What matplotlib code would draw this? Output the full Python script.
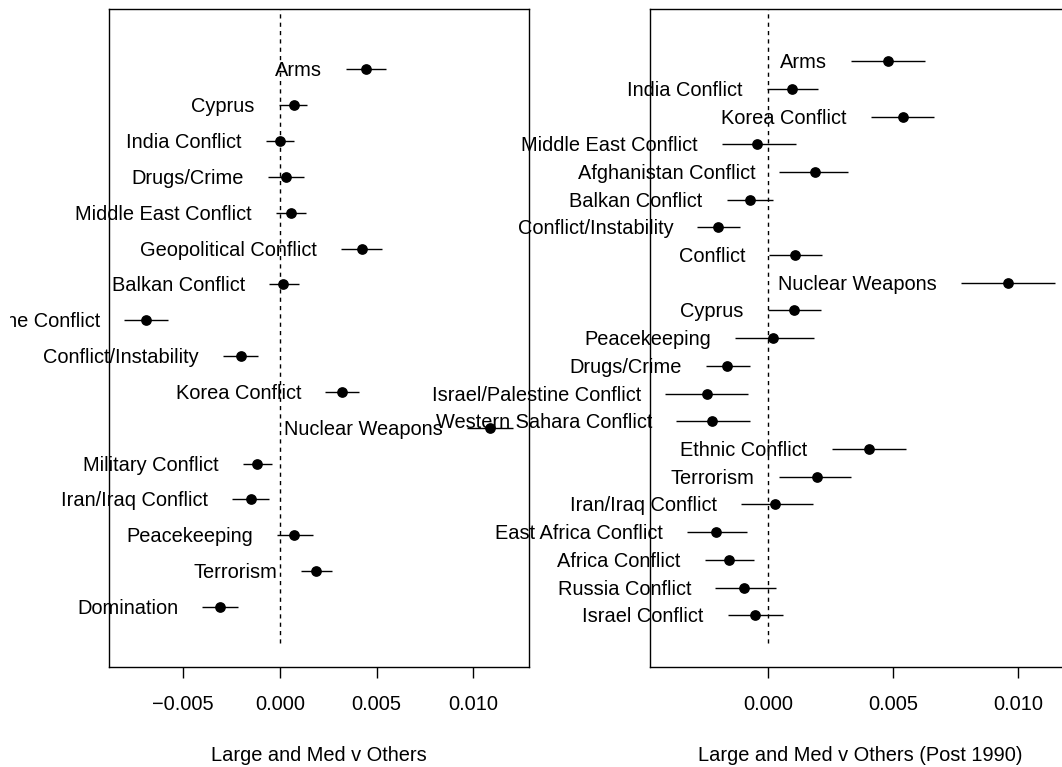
import matplotlib
matplotlib.use("Agg")
import matplotlib.pyplot as plt
from matplotlib.transforms import Bbox

plt.rcParams['font.family'] = ['Liberation Sans', 'DejaVu Sans']

# left panel: all years
left_labels = ["Arms", "Cyprus", "India Conflict", "Drugs/Crime", "Middle East Conflict",
               "Geopolitical Conflict", "Balkan Conflict", "Israel/Palestine Conflict",
               "Conflict/Instability", "Korea Conflict", "Nuclear Weapons", "Military Conflict",
               "Iran/Iraq Conflict", "Peacekeeping", "Terrorism", "Domination"]
left_est = [0.00445, 0.00071, 0.00000, 0.00030, 0.00057, 0.00424, 0.00018, -0.00694,
            -0.00203, 0.00319, 0.01086, -0.00118, -0.00152, 0.00075, 0.00185, -0.00312]
left_lo = [0.00343, -0.00006, -0.00073, -0.00061, -0.00020, 0.00317, -0.00057, -0.00807,
           -0.00297, 0.00235, 0.00965, -0.00191, -0.00248, -0.00015, 0.00110, -0.00403]
left_hi = [0.00550, 0.00141, 0.00071, 0.00126, 0.00137, 0.00530, 0.00096, -0.00579,
           -0.00116, 0.00409, 0.01205, -0.00041, -0.00055, 0.00171, 0.00267, -0.00217]
left_ticks = [-0.005, 0.0, 0.005, 0.010]

# right panel: post 1990
right_labels = ["Arms", "India Conflict", "Korea Conflict", "Middle East Conflict",
                "Afghanistan Conflict", "Balkan Conflict", "Conflict/Instability", "Conflict",
                "Nuclear Weapons", "Cyprus", "Peacekeeping", "Drugs/Crime",
                "Israel/Palestine Conflict", "Western Sahara Conflict", "Ethnic Conflict",
                "Terrorism", "Iran/Iraq Conflict", "East Africa Conflict", "Africa Conflict",
                "Russia Conflict", "Israel Conflict"]
right_est = [0.00479, 0.00095, 0.00540, -0.00044, 0.00188, -0.00072, -0.00198, 0.00108,
             0.00960, 0.00105, 0.00021, -0.00162, -0.00244, -0.00223, 0.00406, 0.00196,
             0.00028, -0.00206, -0.00157, -0.00095, -0.00051]
right_lo = [0.00334, -0.00005, 0.00412, -0.00185, 0.00046, -0.00165, -0.00282, 0.00005,
            0.00771, 0.00000, -0.00131, -0.00247, -0.00409, -0.00365, 0.00255, 0.00044,
            -0.00107, -0.00324, -0.00252, -0.00211, -0.00161]
right_hi = [0.00627, 0.00199, 0.00664, 0.00111, 0.00319, 0.00020, -0.00112, 0.00216,
            0.01149, 0.00211, 0.00183, -0.00072, -0.00079, -0.00072, 0.00552, 0.00334,
            0.00180, -0.00084, -0.00054, 0.00033, 0.00060]
right_ticks = [0.0, 0.005, 0.010]

W, H = 1062, 767
fig = plt.figure(figsize=(W / 100, H / 100), dpi=100)
ax1 = fig.add_axes([108.8 / W, (H - 667.3) / H, 420.5 / W, 658.3 / H])
ax2 = fig.add_axes([649.7 / W, (H - 667.3) / H, 420.5 / W, 658.3 / H])


def fmt(v):
    return ("%.3f" % v).replace("-", "\u2212")


def panel(ax, labels, est, lo, hi, xlim, ticks, xlabel, clip=None):
    n = len(labels)
    ys = [n - i for i in range(n)]
    ax.vlines(0, 0, n + 3, colors="black", linestyles=(0, (3, 3)), linewidth=1.0)
    ax.hlines(ys, lo, hi, colors="black", linewidth=1.0)
    ax.plot(est, ys, "o", color="black", markersize=6.7)
    for lab, x, y in zip(labels, lo, ys):
        t = ax.annotate(lab, (x, y), xytext=(-24, -7), textcoords="offset pixels",
                        ha="right", va="baseline", fontsize=14.4, annotation_clip=False)
        if clip is not None:
            t.set_clip_box(clip)
            t.set_clip_on(True)
    ax.set_xlim(xlim)
    ax.set_ylim(-0.04 * (n + 1), (n + 1) * 1.04)
    ax.set_yticks([])
    ax.set_xticks(ticks)
    ax.set_xticklabels([fmt(v) for v in ticks])
    ax.tick_params(axis="x", direction="out", length=8, width=1.0, pad=12, labelsize=14.4)
    ax.set_xlabel(xlabel, fontsize=14.4, labelpad=23)
    for s in ax.spines.values():
        s.set_linewidth(1.0)


# the left panel's labels are cut at the edge of its drawing region
left_clip = Bbox([[10, 0], [W, H]])
panel(ax1, left_labels, left_est, left_lo, left_hi, (-0.00885, 0.01289), left_ticks,
      "Large and Med v Others", clip=left_clip)
panel(ax2, right_labels, right_est, right_lo, right_hi, (-0.00472, 0.01208), right_ticks,
      "Large and Med v Others (Post 1990)")

fig.savefig("out.png", dpi=100)
